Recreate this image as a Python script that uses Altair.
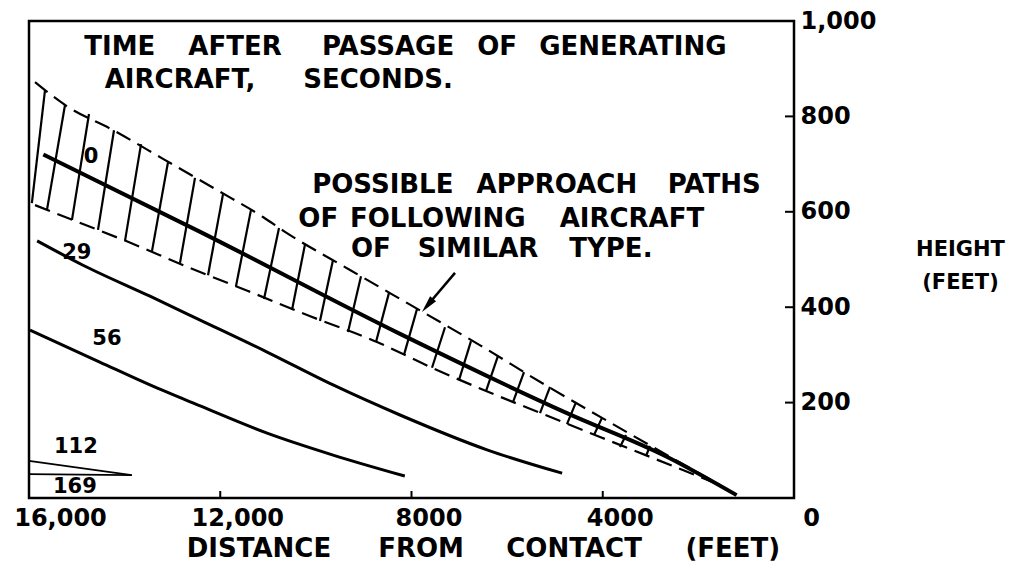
import altair as alt
import pandas as pd

# ---------------- data ----------------
X_TICKS = [16000, 12000, 8000, 4000, 0]
X_TICK_TEXT = ["16,000", "12,000", "8000", "4000", "0"]
Y_TICKS = [200, 400, 600, 800, 1000]
Y_TICK_TEXT = ["200", "400", "600", "800", "1,000"]
X_INNER_TICKS = [12000, 8000, 4000]

LINE_0_X = [15700, 12420, 8240, 4750, 2650, 1200]
LINE_0_Y = [720, 558, 344, 178, 86, 6]
LINE_29_X = [15830, 14870, 13470, 12420, 11020, 9640, 8240, 6420, 4850]
LINE_29_Y = [539, 488, 423, 373, 306, 237, 174, 101, 52]
LINE_56_X = [15980, 14520, 13470, 12420, 11020, 9640, 8140]
LINE_56_Y = [352, 285, 237, 193, 136, 90, 46]
LINE_112_X = [16000, 13850]
LINE_112_Y = [78, 48]
LINE_169_X = [16000, 13850]
LINE_169_Y = [50, 48]

BAND_UPPER_X = [15874, 15247, 14201, 13197, 12110, 11106, 10646, 9286, 7801, 6546, 5271, 4016, 2991, 1548]
BAND_UPPER_Y = [872, 824, 769, 711, 648, 589, 558, 478, 392, 319, 241, 168, 109, 27]
BAND_LOWER_X = [15874, 15038, 13929, 12674, 11420, 10144, 8722, 7571, 6337, 5145, 4058, 2907, 1548]
BAND_LOWER_Y = [614, 581, 537, 484, 434, 382, 327, 273, 220, 172, 128, 82, 27]

HATCH_X1 = [15940, 15624, 15101, 14557, 13992, 13427, 12842, 12256, 11671, 11085, 10499, 9914,
            9328, 8742, 8157, 7571, 7007, 6442, 5877, 5312, 4748, 4183, 3639, 3095]
HATCH_Y1 = [618, 604, 583, 562, 539, 518, 493, 467, 444, 417, 394, 371,
            348, 327, 300, 273, 247, 224, 201, 178, 155, 132, 107, 88]
HATCH_X2 = [15665, 15247, 14745, 14222, 13657, 13093, 12528, 11942, 11357, 10771, 10227, 9642,
            9056, 8471, 7885, 7299, 6756, 6191, 5647, 5103, 4559, 4016, 3514, 3012]
HATCH_Y2 = [855, 824, 805, 771, 742, 704, 671, 637, 604, 566, 532, 499,
            465, 430, 396, 358, 329, 298, 264, 233, 201, 168, 132, 109]

ARROW_X = [7090, 7665]
ARROW_Y = [472, 404]

CURVE_LABELS = ["0", "29", "56", "112", "169"]
CURVE_LABEL_X = [14700, 15000, 14370, 15020, 15040]
CURVE_LABEL_Y = [715, 514, 333, 107, 23]

NOTE_WORDS = ["TIME", "AFTER", "PASSAGE", "OF", "GENERATING", "AIRCRAFT,", "SECONDS.",
              "POSSIBLE", "APPROACH", "PATHS", "OF", "FOLLOWING", "AIRCRAFT",
              "OF", "SIMILAR", "TYPE."]
NOTE_X = [14100, 11690, 8490, 6210, 3370, 12840, 8700,
          8600, 4960, 1670, 9950, 7450, 3390, 8850, 6610, 3830]
NOTE_Y = [945, 945, 945, 945, 945, 876, 876,
          656, 656, 656, 585, 585, 585, 522, 522, 522]

X_TITLE_WORDS = ["DISTANCE", "FROM", "CONTACT", "(FEET)"]
X_TITLE_X = [11190, 7800, 4600, 1280]
X_TITLE_Y = [-107, -107, -107, -107]

Y_TITLE = ["HEIGHT", "(FEET)"]

# ---------------- build ----------------
FONT = "DejaVu Sans"
W, H = 765, 477


def nested_expr(vals, texts):
    e = "''"
    for v, t in reversed(list(zip(vals, texts))):
        e = f"datum.value == {v} ? '{t}' : ({e})"
    return e


xs = alt.Scale(domain=[0, 16000], reverse=True, nice=False, zero=False)
ys = alt.Scale(domain=[0, 1000], nice=False, zero=False)

X_AXIS = alt.Axis(values=X_TICKS, labelExpr=nested_expr(X_TICKS, X_TICK_TEXT), title=None,
                  domain=False, ticks=False, grid=False, labelFont=FONT, labelFontSize=24,
                  labelFontWeight="bold", labelColor="black", labelPadding=8, labelFlush=False,
                  labelOffset={"condition": {"test": "datum.value == 16000", "value": 31}, "value": 17})
Y_AXIS = alt.Axis(orient="right", values=Y_TICKS, labelExpr=nested_expr(Y_TICKS, Y_TICK_TEXT),
                  title=Y_TITLE, titleAngle=0, titleX=166, titleY=217, titleAlign="center",
                  titleBaseline="top", titleFont=FONT, titleFontSize=21, titleFontWeight="bold",
                  titleColor="black", titleLineHeight=33,
                  domain=False, ticks=False, grid=False, labelFont=FONT, labelFontSize=24,
                  labelFontWeight="bold", labelColor="black", labelPadding=6, labelAlign="left",
                  labelBaseline="middle")


def X(f):
    return alt.X(f, type="quantitative", scale=xs, axis=X_AXIS)


def Y(f):
    return alt.Y(f, type="quantitative", scale=ys, axis=Y_AXIS)


def line_df(name, xv, yv):
    return pd.DataFrame({"x": xv, "y": yv, "curve": name, "i": range(len(xv))})


main = line_df("0", LINE_0_X, LINE_0_Y)
mid = pd.concat([line_df("29", LINE_29_X, LINE_29_Y), line_df("56", LINE_56_X, LINE_56_Y)])
thin = pd.concat([line_df("112", LINE_112_X, LINE_112_Y), line_df("169", LINE_169_X, LINE_169_Y)])
band = pd.concat([line_df("upper", BAND_UPPER_X, BAND_UPPER_Y), line_df("lower", BAND_LOWER_X, BAND_LOWER_Y)])
hatch = pd.DataFrame({"x1": HATCH_X1, "y1": HATCH_Y1, "x2": HATCH_X2, "y2": HATCH_Y2})
arrow = line_df("arrow", ARROW_X, ARROW_Y)
head = pd.DataFrame({"x": [ARROW_X[-1]], "y": [ARROW_Y[-1]]})
clabels = pd.DataFrame({"t": CURVE_LABELS, "x": CURVE_LABEL_X, "y": CURVE_LABEL_Y})
notes = pd.DataFrame({"t": NOTE_WORDS, "x": NOTE_X, "y": NOTE_Y})
xtitle = pd.DataFrame({"t": X_TITLE_WORDS, "x": X_TITLE_X, "y": X_TITLE_Y})
xticks = pd.DataFrame({"v": X_INNER_TICKS})
yticks = pd.DataFrame({"v": Y_TICKS})

l_main = alt.Chart(main).mark_line(color="black", strokeWidth=4, interpolate="monotone").encode(
    x=X("x"), y=Y("y"), order="i:Q")
l_mid = alt.Chart(mid).mark_line(color="black", strokeWidth=3, interpolate="monotone").encode(
    x=X("x"), y=Y("y"), detail="curve:N", order="i:Q")
l_thin = alt.Chart(thin).mark_line(color="black", strokeWidth=1.8).encode(
    x=X("x"), y=Y("y"), detail="curve:N", order="i:Q")
l_band = alt.Chart(band).mark_line(color="black", strokeWidth=2.2, strokeDash=[16, 8],
                                   interpolate="monotone").encode(
    x=X("x"), y=Y("y"), detail="curve:N", order="i:Q")
l_hatch = alt.Chart(hatch).mark_rule(color="black", strokeWidth=2.2).encode(
    x=X("x1"), y=Y("y1"), x2="x2:Q", y2="y2:Q")
l_arrow = alt.Chart(arrow).mark_line(color="black", strokeWidth=2.5).encode(
    x=X("x"), y=Y("y"), order="i:Q")
l_head = alt.Chart(head).mark_point(shape="M0,-1L0.45,1L-0.45,1Z", size=300, filled=True,
                                    color="black", opacity=1, angle=220).encode(x=X("x"), y=Y("y"))
l_clab = alt.Chart(clabels).mark_text(font=FONT, fontSize=21, fontWeight="bold", color="black",
                                      align="center", baseline="middle").encode(
    x=X("x"), y=Y("y"), text="t:N")
l_notes = alt.Chart(notes).mark_text(font=FONT, fontSize=26, fontWeight="bold", color="black",
                                     align="center", baseline="middle").encode(
    x=X("x"), y=Y("y"), text="t:N")
l_xtitle = alt.Chart(xtitle).mark_text(font=FONT, fontSize=26, fontWeight="bold", color="black",
                                       align="center", baseline="middle").encode(
    x=X("x"), y=Y("y"), text="t:N")
l_xt = alt.Chart(xticks).mark_rule(color="black", strokeWidth=2).encode(
    x=X("v"), y=alt.value(H), y2=alt.value(H - 7))
l_yt = alt.Chart(yticks).mark_rule(color="black", strokeWidth=2).encode(
    y=Y("v"), x=alt.value(W - 9), x2=alt.value(W))

chart = alt.layer(
    l_band, l_hatch, l_main, l_mid, l_thin, l_arrow, l_head, l_clab, l_notes, l_xtitle, l_xt, l_yt
).properties(
    width=W, height=H,
    autosize=alt.AutoSizeParams(type="none"),
    padding={"left": 21, "top": 13, "right": 215, "bottom": 80},
    background="white",
).configure_view(stroke="black", strokeWidth=2.5)

chart.save("out.html", embed_options={"renderer": "svg", "actions": False})
